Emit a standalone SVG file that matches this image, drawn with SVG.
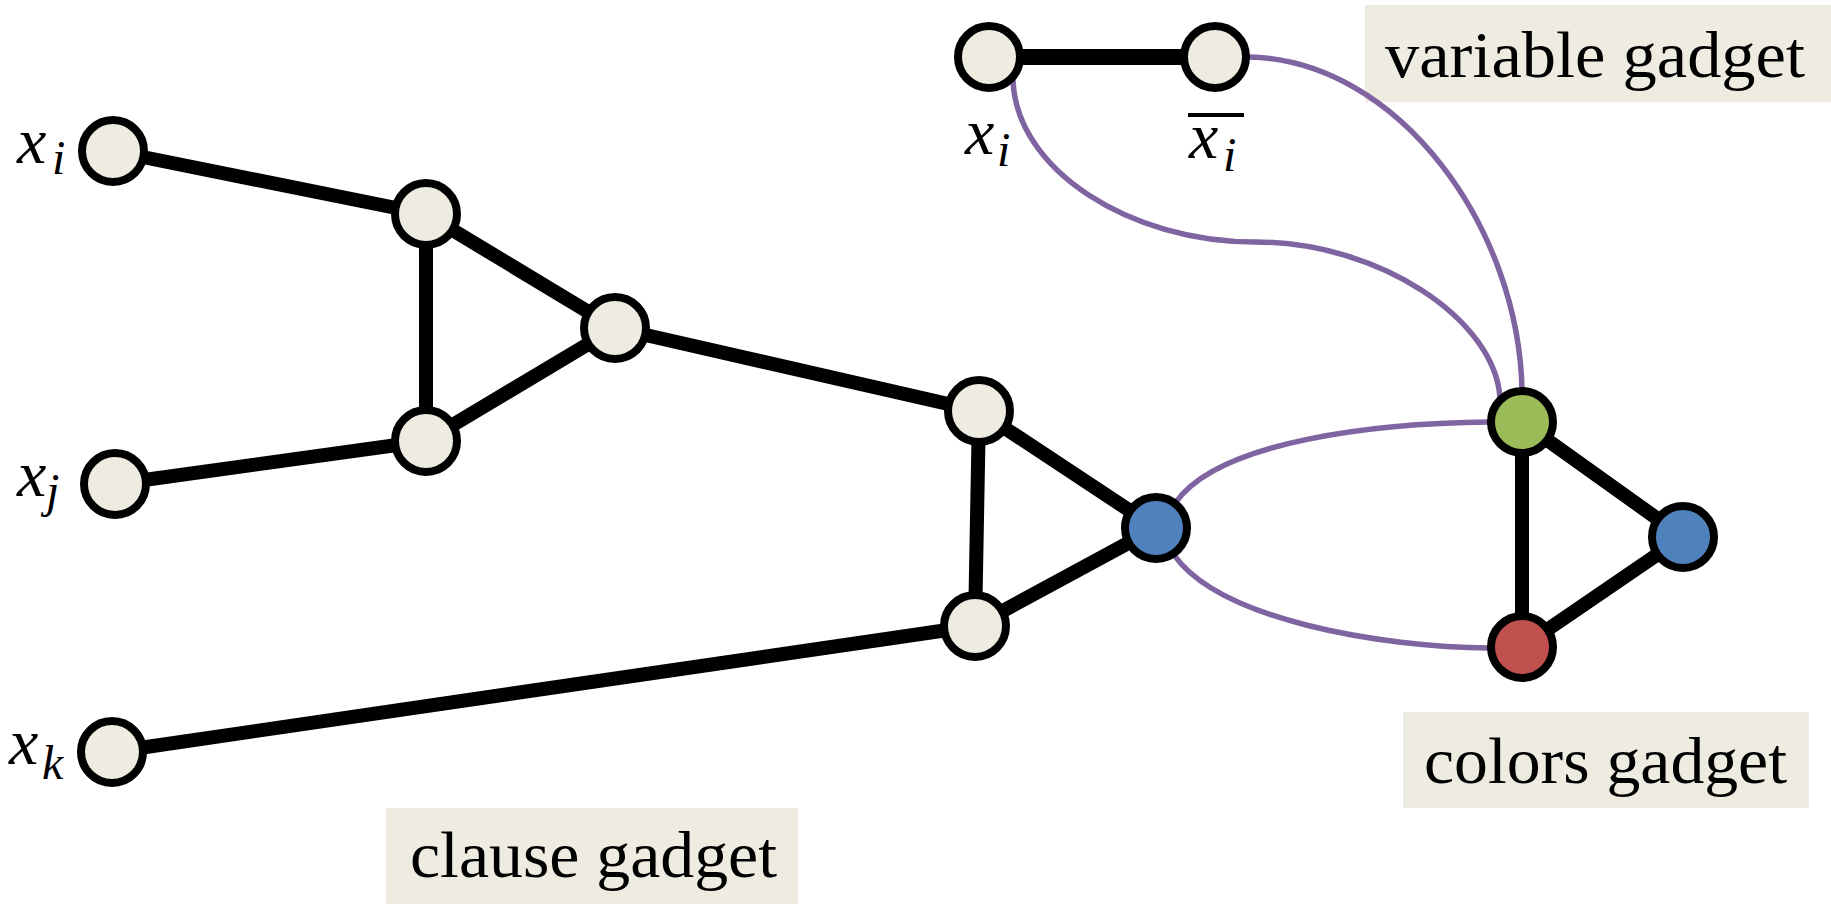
<svg xmlns="http://www.w3.org/2000/svg" width="1831" height="904" viewBox="0 0 1831 904">
<style>
.e{stroke:#000;stroke-width:14;stroke-linecap:round;fill:none}
.p{stroke:#8064a2;stroke-width:5.5;fill:none}
.n{stroke:#000;stroke-width:8}
.w{fill:#eeece1}
.lbl{font-family:"Liberation Serif",serif;font-size:66px;fill:#000}
.m{font-family:"Liberation Serif",serif;font-style:italic;fill:#000}
</style>
<rect width="1831" height="904" fill="#fff"/>
<g id="labels-boxes">
<rect class="w" x="1365" y="5" width="466" height="97"/>
<rect class="w" x="1403" y="712" width="406" height="96"/>
<rect class="w" x="386" y="808" width="412" height="96"/>
</g>
<g id="connectors">
<line class="e" x1="113" y1="151" x2="426" y2="214"/>
<line class="e" x1="115" y1="484" x2="426" y2="441"/>
<line class="e" x1="112" y1="752" x2="975" y2="626"/>
<line class="e" x1="426" y1="214" x2="426" y2="441"/>
<line class="e" x1="426" y1="214" x2="615" y2="328"/>
<line class="e" x1="426" y1="441" x2="615" y2="328"/>
<line class="e" x1="615" y1="328" x2="979" y2="411"/>
<line class="e" x1="979" y1="411" x2="975" y2="626"/>
<line class="e" x1="979" y1="411" x2="1156" y2="528"/>
<line class="e" x1="975" y1="626" x2="1156" y2="528"/>
<line class="e" x1="1522" y1="422" x2="1522" y2="647"/>
<line class="e" x1="1522" y1="422" x2="1683" y2="537"/>
<line class="e" x1="1522" y1="647" x2="1683" y2="537"/>
<line class="e" x1="989" y1="57" x2="1215" y2="57" style="stroke-width:16"/>
<path class="p" d="M1013,80 C1016,170 1130,242 1255,242 C1380,242 1495,320 1500,398"/>
<path class="p" d="M1249,57 C1400,60 1520,230 1522,392"/>
<path class="p" d="M1176,502 C1220,440 1380,423 1490,422"/>
<path class="p" d="M1174,555 C1220,620 1380,647 1490,648"/>
</g>
<g id="node-xi"><circle class="n w" cx="113" cy="151" r="31"/></g>
<g id="node-xj"><circle class="n w" cx="115" cy="484" r="31"/></g>
<g id="node-xk"><circle class="n w" cx="112" cy="752" r="31"/></g>
<g id="node-c1"><circle class="n w" cx="426" cy="214" r="31"/></g>
<g id="node-c2"><circle class="n w" cx="426" cy="441" r="31"/></g>
<g id="node-c3"><circle class="n w" cx="615" cy="328" r="31"/></g>
<g id="node-c4"><circle class="n w" cx="979" cy="411" r="31"/></g>
<g id="node-c5"><circle class="n w" cx="975" cy="626" r="31"/></g>
<g id="node-cout"><circle class="n" fill="#4f81bd" cx="1156" cy="528" r="31"/></g>
<g id="node-green"><circle class="n" fill="#9bbb59" cx="1522" cy="422" r="31"/></g>
<g id="node-red"><circle class="n" fill="#c0504d" cx="1522" cy="647" r="31"/></g>
<g id="node-blue"><circle class="n" fill="#4f81bd" cx="1683" cy="537" r="31"/></g>
<g id="node-vx"><circle class="n w" cx="989" cy="57" r="31"/></g>
<g id="node-vnx"><circle class="n w" cx="1215" cy="57" r="31"/></g>
<g id="texts">
<text class="lbl" x="1385" y="77" textLength="420" lengthAdjust="spacingAndGlyphs">variable gadget</text>
<text class="lbl" x="1424" y="783" textLength="363" lengthAdjust="spacingAndGlyphs">colors gadget</text>
<text class="lbl" x="410" y="877" textLength="367" lengthAdjust="spacingAndGlyphs">clause gadget</text>
<text class="m" x="17" y="163" font-size="66">x</text><text class="m" x="52" y="174" font-size="48">i</text>
<text class="m" x="17" y="496" font-size="66">x</text><text class="m" x="46" y="507" font-size="48">j</text>
<text class="m" x="9" y="764" font-size="66">x</text><text class="m" x="42" y="779" font-size="48">k</text>
<text class="m" x="965" y="154" font-size="66">x</text><text class="m" x="997" y="166" font-size="48">i</text>
<text class="m" x="1189" y="158" font-size="66">x</text><text class="m" x="1223" y="171" font-size="48">i</text>
<line x1="1188" y1="115" x2="1244" y2="115" stroke="#000" stroke-width="4"/>
</g>
</svg>
